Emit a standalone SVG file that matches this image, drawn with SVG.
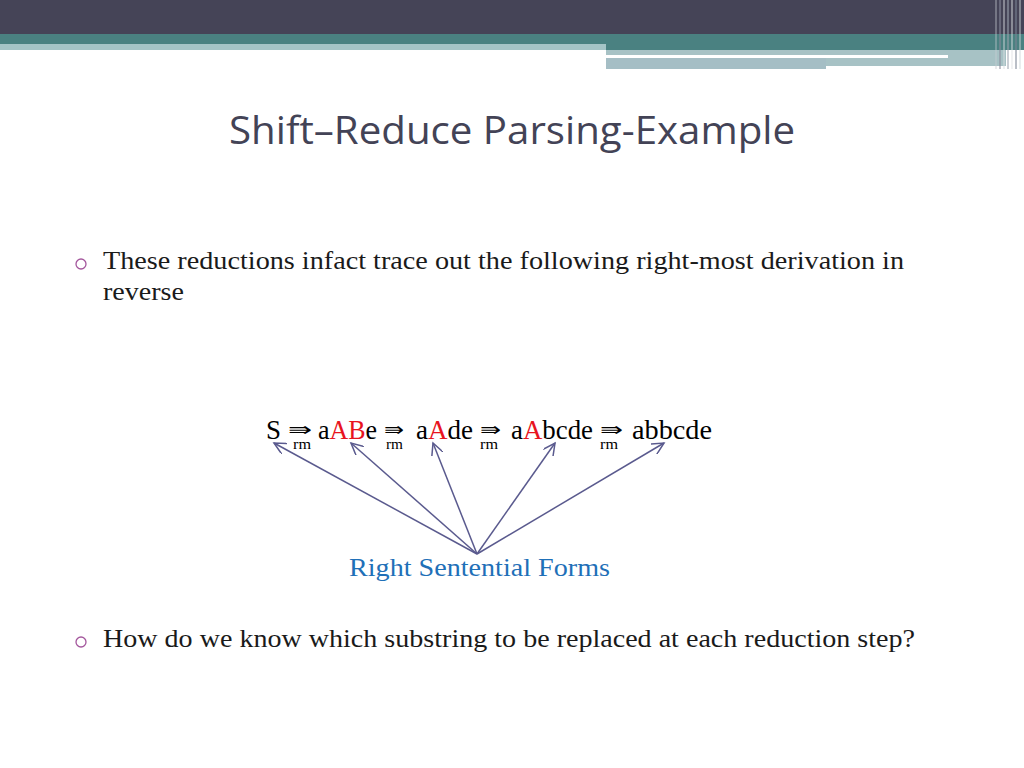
<svg xmlns="http://www.w3.org/2000/svg" width="1024" height="768" viewBox="0 0 1024 768">
<style>
.title{font-family:"Open Sans","Liberation Sans",sans-serif;font-size:38px;fill:#434356}
.body{font-family:"Liberation Serif","DejaVu Serif",serif;font-size:25px;fill:#1a1a1a}
.der{font-family:"Liberation Serif","DejaVu Serif",serif;font-size:27px;fill:#000}
.red{fill:#e8141e}
.rm{font-family:"Liberation Serif","DejaVu Serif",serif;font-size:14px;fill:#000}
.arr{font-family:"DejaVu Sans",sans-serif;font-size:19px;fill:#000}
.blue{font-family:"Liberation Serif","DejaVu Serif",serif;font-size:25px;fill:#1f70b8}
.bullet{fill:none;stroke:#a4579d;stroke-width:1.3}
.conn{stroke:#5a5a8e;stroke-width:1.5;fill:none}
</style>
<defs>
<marker id="ah" markerWidth="14" markerHeight="12" refX="12" refY="6" orient="auto" markerUnits="userSpaceOnUse">
<path d="M0,0 L12,6 L0,12" fill="none" stroke="#5a5a8e" stroke-width="1.5"/>
</marker>
</defs>
<rect width="1024" height="768" fill="#ffffff"/>
<g id="header">
<rect x="0" y="0" width="1024" height="34" fill="#454457"/>
<rect x="0" y="34" width="1024" height="16" fill="#4a8181"/>
<rect x="0" y="44" width="606" height="6" fill="#a5c4c6"/>
<rect x="606" y="50" width="400" height="16" fill="#a7c2c5"/>
<rect x="606" y="58" width="220" height="11" fill="#a5bec5"/>
<rect x="606" y="55" width="342" height="3" fill="#ffffff"/>
<g stroke-width="1.5">
<line x1="996" y1="0" x2="996" y2="69" stroke="#c8cdd2" opacity="0.5"/>
<line x1="1000" y1="0" x2="1000" y2="69" stroke="#8a8c9c" opacity="0.7"/>
<line x1="1004" y1="0" x2="1004" y2="69" stroke="#d8dde0" opacity="0.6"/>
<line x1="1008" y1="0" x2="1008" y2="69" stroke="#9ea6b0" opacity="0.7"/>
<line x1="1012" y1="0" x2="1012" y2="69" stroke="#e0e4e6" opacity="0.6"/>
<line x1="1016" y1="0" x2="1016" y2="69" stroke="#7d8696" opacity="0.7"/>
<line x1="1020" y1="0" x2="1020" y2="69" stroke="#d0d8da" opacity="0.6"/>
</g>
</g>
<g id="title">
<text class="title" x="229" y="144" textLength="566" lengthAdjust="spacingAndGlyphs">Shift–Reduce Parsing-Example</text>
</g>
<g id="bullet1">
<circle class="bullet" cx="81" cy="264" r="5"/>
<text class="body" x="103" y="269" textLength="801" lengthAdjust="spacingAndGlyphs">These reductions infact trace out the following right-most derivation in</text>
<text class="body" x="103" y="300" textLength="81" lengthAdjust="spacingAndGlyphs">reverse</text>
</g>
<g id="derivation">
<text class="der" x="266" y="439" textLength="15" lengthAdjust="spacingAndGlyphs">S</text>
<text class="arr" x="288" y="436" textLength="24" lengthAdjust="spacingAndGlyphs">⇛</text>
<text class="rm" x="293" y="449" textLength="18" lengthAdjust="spacingAndGlyphs">rm</text>
<text class="der" x="318" y="439" textLength="59" lengthAdjust="spacingAndGlyphs">a<tspan class="red">AB</tspan>e</text>
<text class="arr" x="384" y="436" textLength="20" lengthAdjust="spacingAndGlyphs">⇛</text>
<text class="rm" x="386" y="449" textLength="17" lengthAdjust="spacingAndGlyphs">rm</text>
<text class="der" x="416" y="439" textLength="57" lengthAdjust="spacingAndGlyphs">a<tspan class="red">A</tspan>de</text>
<text class="arr" x="480" y="436" textLength="21" lengthAdjust="spacingAndGlyphs">⇛</text>
<text class="rm" x="480" y="449" textLength="18" lengthAdjust="spacingAndGlyphs">rm</text>
<text class="der" x="511" y="439" textLength="82" lengthAdjust="spacingAndGlyphs">a<tspan class="red">A</tspan>bcde</text>
<text class="arr" x="600" y="436" textLength="23" lengthAdjust="spacingAndGlyphs">⇛</text>
<text class="rm" x="600" y="449" textLength="18" lengthAdjust="spacingAndGlyphs">rm</text>
<text class="der" x="632" y="439" textLength="80" lengthAdjust="spacingAndGlyphs">abbcde</text>
</g>
<g id="connectors">
<line class="conn" x1="477" y1="554" x2="274" y2="443" marker-end="url(#ah)"/>
<line class="conn" x1="477" y1="554" x2="351" y2="443" marker-end="url(#ah)"/>
<line class="conn" x1="477" y1="554" x2="433" y2="443" marker-end="url(#ah)"/>
<line class="conn" x1="477" y1="554" x2="555" y2="443" marker-end="url(#ah)"/>
<line class="conn" x1="477" y1="554" x2="664" y2="443" marker-end="url(#ah)"/>
</g>
<g id="label">
<text class="blue" x="349" y="576" textLength="261" lengthAdjust="spacingAndGlyphs">Right Sentential Forms</text>
</g>
<g id="bullet2">
<circle class="bullet" cx="81" cy="642" r="5"/>
<text class="body" x="103" y="647" textLength="812" lengthAdjust="spacingAndGlyphs">How do we know which substring to be replaced at each reduction step?</text>
</g>
</svg>
